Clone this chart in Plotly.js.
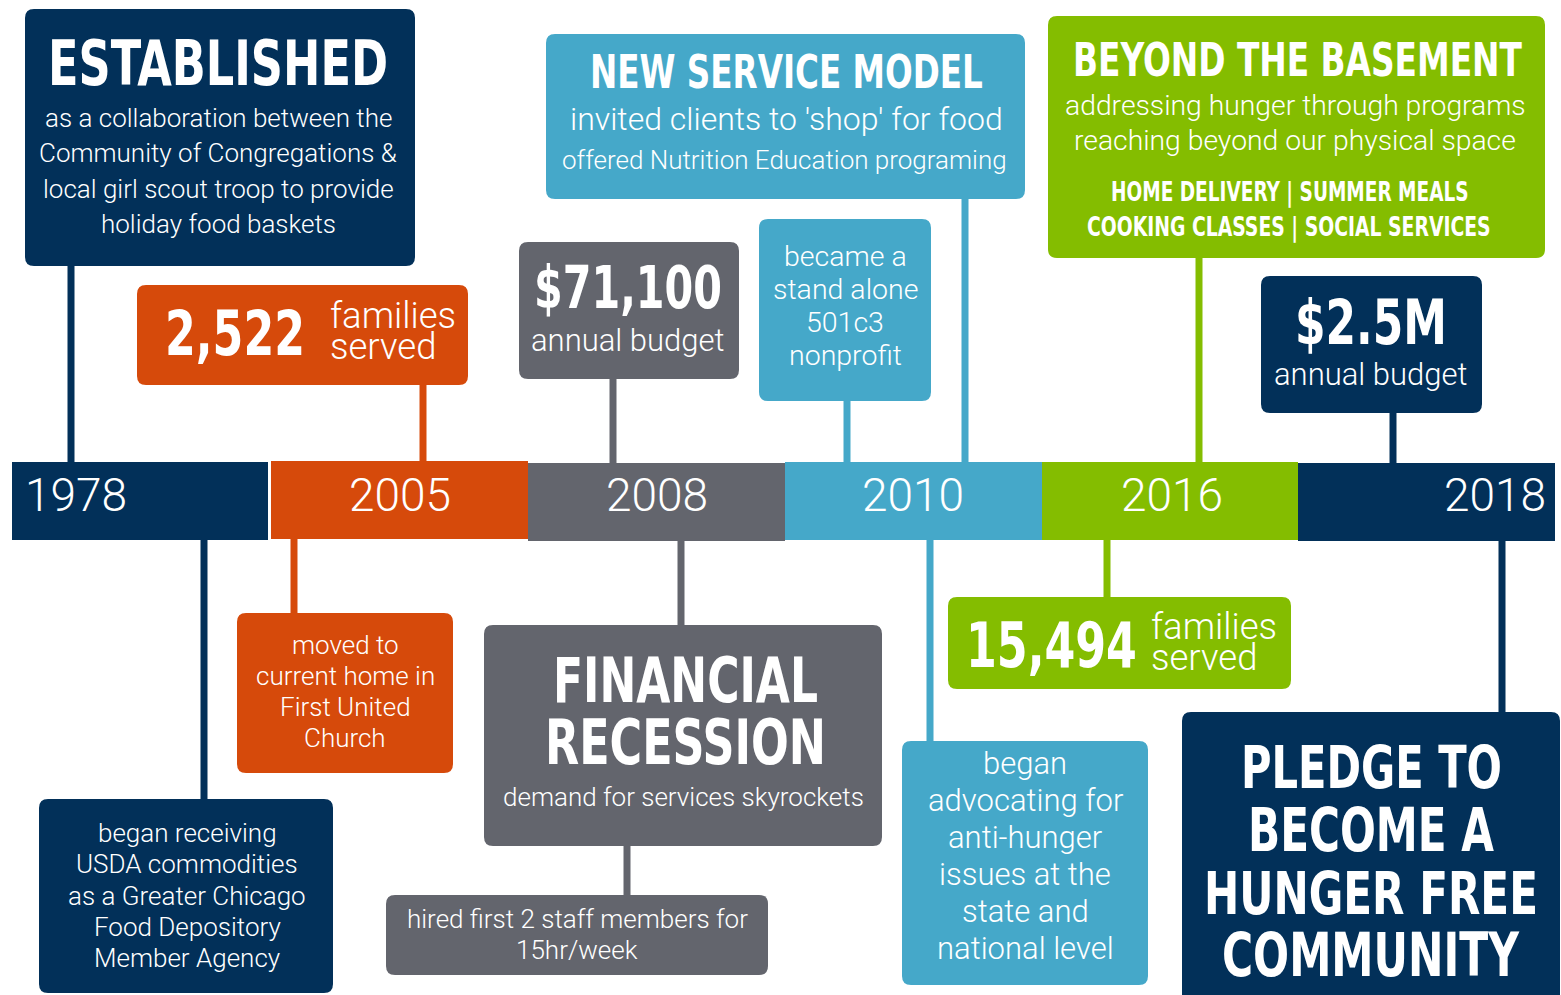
<!DOCTYPE html>
<html>
<head>
<meta charset="utf-8">
<script src="https://cdn.plot.ly/plotly-3.0.1.min.js"></script>
<style>
html,body{margin:0;padding:0;background:#fff;}
#chart{width:1561px;height:995px;}
/* headline lettering: tall condensed look */
text.annotation-text[style*="DejaVu Sans Condensed"]{
  transform-box: fill-box; transform-origin: 50% 50%; transform: scaleY(1.27);
}
</style>
</head>
<body>
<div id="chart"></div>
<script>
// ---------------- DATA ----------------
const years = ['1978', '2005', '2008', '2010', '2016', '2018'];
const eraColors = ['#023059', '#d64a0b', '#63656d', '#45a8c9', '#84bd00', '#023059'];

const familiesServed = ['2,522', '15,494'];          // 2005, 2016
const annualBudget = ['$71,100', '$2.5M'];           // 2008, 2018
const statCaption = ['families', 'served'];
const budgetCaption = 'annual budget';

const establishedHead = 'ESTABLISHED';
const establishedBody = ['as a collaboration between the', 'Community of Congregations &', 'local girl scout troop to provide', 'holiday food baskets'];
const usdaBody = ['began receiving', 'USDA commodities', 'as a Greater Chicago', 'Food Depository', 'Member Agency'];
const movedBody = ['moved to', 'current home in', 'First United', 'Church'];
const recessionHead = ['FINANCIAL', 'RECESSION'];
const recessionBody = 'demand for services skyrockets';
const staffBody = ['hired first 2 staff members for', '15hr/week'];
const serviceHead = 'NEW SERVICE MODEL';
const serviceBody = ["invited clients to 'shop' for food", 'offered Nutrition Education programing'];
const nonprofitBody = ['became a', 'stand alone', '501c3', 'nonprofit'];
const advocacyBody = ['began', 'advocating for', 'anti-hunger', 'issues at the', 'state and', 'national level'];
const basementHead = 'BEYOND THE BASEMENT';
const basementBody = ['addressing hunger through programs', 'reaching beyond our physical space'];
const basementPrograms = ['HOME DELIVERY | SUMMER MEALS', 'COOKING CLASSES | SOCIAL SERVICES'];
const pledgeHead = ['PLEDGE TO', 'BECOME A', 'HUNGER FREE', 'COMMUNITY'];

// ---------------- LAYOUT / STYLE ----------------
const W = 1561, H = 995;
const HEAD_FONT = '"DejaVu Sans Condensed", sans-serif';
const BODY_FONT = 'Roboto, sans-serif';
const CAP = 0.729, STRETCH = 1.27;

const canvas = document.createElement('canvas');
const ctx = canvas.getContext('2d');
function fitSize(text, family, weight, targetW, capH) {
  ctx.font = weight + ' 100px ' + family;
  const w = ctx.measureText(text).width;
  let s = 100 * targetW / w;
  if (capH) s = Math.min(s, capH / (CAP * STRETCH));
  return s;
}
function esc(t) { return t.replace(/&/g, '&amp;'); }

const shapes = [];
const annotations = [];

function roundRect(x0, y0, x1, y1, r, color) {
  const p = `M${x0 + r},${y0} H${x1 - r} Q${x1},${y0} ${x1},${y0 + r} V${y1 - r} Q${x1},${y1} ${x1 - r},${y1} H${x0 + r} Q${x0},${y1} ${x0},${y1 - r} V${y0 + r} Q${x0},${y0} ${x0 + r},${y0} Z`;
  shapes.push({type: 'path', xref: 'x', yref: 'y', path: p, fillcolor: color, line: {width: 0}, layer: 'above'});
}
function connector(x, y0, y1, color) {
  shapes.push({type: 'line', xref: 'x', yref: 'y', x0: x, x1: x, y0: y0, y1: y1, line: {color: color, width: 7}, layer: 'above'});
}
function text(t, x, y, size, kind, anchor) {
  annotations.push({
    xref: 'x', yref: 'y', x: x, y: y, text: esc(t), showarrow: false,
    xanchor: anchor || 'center', yanchor: 'middle',
    font: kind === 'head'
      ? {family: HEAD_FONT, size: size, color: '#ffffff', weight: 700}
      : {family: BODY_FONT, size: size, color: '#ffffff', weight: 300}
  });
}
function head(t, x, y, targetW, capH) {
  text(t, x, y, fitSize(t, HEAD_FONT, 'bold', targetW, capH), 'head');
}
function lines(arr, x, yFirst, step, size) {
  arr.forEach((t, i) => text(t, x, yFirst + i * step, size, 'body'));
}

// connectors (drawn first, under the boxes)
connector(71, 262, 464, eraColors[0]);
connector(204, 538, 802, eraColors[0]);
connector(423, 380, 464, eraColors[1]);
connector(294, 537, 616, eraColors[1]);
connector(613, 375, 465, eraColors[2]);
connector(681, 539, 628, eraColors[2]);
connector(627, 842, 898, eraColors[2]);
connector(847, 396, 464, eraColors[3]);
connector(965, 195, 464, eraColors[3]);
connector(930, 538, 744, eraColors[3]);
connector(1199, 254, 464, eraColors[4]);
connector(1107, 538, 600, eraColors[4]);
connector(1393, 409, 465, eraColors[5]);
connector(1502, 539, 715, eraColors[5]);

// timeline band
const bandX = [12, 271, 528, 785, 1042, 1298, 1555];
const bandY = [[462, 540], [461, 539], [463, 541], [462, 540], [462, 540], [463, 541]];
years.forEach((y, i) => {
  shapes.push({type: 'rect', xref: 'x', yref: 'y', x0: bandX[i], x1: (i === 0 ? 268 : bandX[i + 1]), y0: bandY[i][0], y1: bandY[i][1],
    fillcolor: eraColors[i], line: {width: 0}, layer: 'above'});
});
const yearX = [23, 400, 657, 913, 1172, 1548];
const yearAnchor = ['left', 'center', 'center', 'center', 'center', 'right'];
years.forEach((y, i) => text(y, yearX[i], 495, 46, 'body', yearAnchor[i]));

// ---- boxes above the band ----
// Established 1978
roundRect(25, 9, 415, 266, 9, eraColors[0]);
head(establishedHead, 218, 62, 340, 55);
lines(establishedBody, 218, 118, 35.3, 26);

// 2,522 families 2005
roundRect(137, 285, 468, 385, 9, eraColors[1]);
head(familiesServed[0], 235, 333, 140, 50);
text(statCaption[0], 328, 315, 36.5, 'body', 'left');
text(statCaption[1], 328, 346, 36.5, 'body', 'left');

// $71,100 budget 2008
roundRect(519, 242, 739, 379, 9, eraColors[2]);
head(annualBudget[0], 628, 288, 188, 51);
text(budgetCaption, 628, 340, 31, 'body');

// 501c3 2010
roundRect(759, 219, 931, 401, 9, eraColors[3]);
lines(nonprofitBody, 845, 256, 33, 28.5);

// New service model 2010
roundRect(546, 34, 1025, 199, 9, eraColors[3]);
head(serviceHead, 786, 72, 393, 43);
text(serviceBody[0], 786, 119, 32, 'body');
text(serviceBody[1], 784, 160, 26, 'body');

// Beyond the basement 2016
roundRect(1048, 16, 1545, 258, 9, eraColors[4]);
head(basementHead, 1297, 60, 449, 42);
lines(basementBody, 1295, 105, 35, 28.3);
head(basementPrograms[0], 1290, 192, 358, 23);
head(basementPrograms[1], 1289, 227, 404, 23);

// $2.5M 2018
roundRect(1261, 276, 1482, 413, 9, eraColors[5]);
head(annualBudget[1], 1371, 322, 152, 51);
text(budgetCaption, 1371, 374, 31, 'body');

// ---- boxes below the band ----
// USDA 1978
roundRect(39, 799, 333, 993, 9, eraColors[0]);
lines(usdaBody, 187, 833, 31.3, 26);

// moved 2005
roundRect(237, 613, 453, 773, 9, eraColors[1]);
lines(movedBody, 345, 645, 31, 26);

// financial recession 2008
roundRect(484, 625, 882, 846, 9, eraColors[2]);
head(recessionHead[0], 685, 680, 265, 55);
head(recessionHead[1], 685, 742, 281, 55);
text(recessionBody, 683, 797, 26, 'body');

// staff 2008
roundRect(386, 895, 768, 975, 9, eraColors[2]);
lines(staffBody, 577, 919, 31, 26);

// advocacy 2010
roundRect(902, 741, 1148, 985, 9, eraColors[3]);
lines(advocacyBody, 1025, 763, 37, 31);

// 15,494 families 2016
roundRect(948, 597, 1291, 689, 9, eraColors[4]);
head(familiesServed[1], 1051, 645, 171, 50);
text(statCaption[0], 1149, 626, 36.5, 'body', 'left');
text(statCaption[1], 1149, 657, 36.5, 'body', 'left');

// pledge 2018
roundRect(1182, 712, 1560, 1010, 9, eraColors[5]);
const pledgeW = [261, 246, 334, 297];
pledgeHead.forEach((t, i) => head(t, 1371, 768 + i * 62.3, pledgeW[i], 55));

const layout = {
  width: W, height: H,
  margin: {l: 0, r: 0, t: 0, b: 0},
  paper_bgcolor: '#ffffff', plot_bgcolor: '#ffffff',
  xaxis: {range: [0, W], visible: false, fixedrange: true},
  yaxis: {range: [H, 0], visible: false, fixedrange: true},
  showlegend: false,
  shapes: shapes,
  annotations: annotations
};
Plotly.newPlot('chart', [{x: [0], y: [0], mode: 'markers', marker: {opacity: 0}, hoverinfo: 'skip'}], layout, {staticPlot: true, displayModeBar: false});
</script>
</body>
</html>
